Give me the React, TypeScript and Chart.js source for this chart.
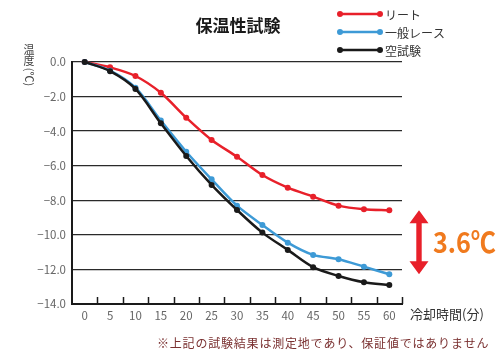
import React, { useEffect, useRef } from "react";
import { Chart, registerables } from "chart.js";

Chart.register(...registerables);

const minutes = ["0", "5", "10", "15", "20", "25", "30", "35", "40", "45", "50", "55", "60"];
const riito = [0, -0.31, -0.81, -1.78, -3.22, -4.51, -5.48, -6.54, -7.27, -7.79, -8.31, -8.52, -8.58];
const ippanRace = [0, -0.5, -1.49, -3.39, -5.19, -6.79, -8.31, -9.43, -10.45, -11.16, -11.41, -11.84, -12.28];
const karaShiken = [0, -0.53, -1.56, -3.55, -5.44, -7.11, -8.56, -9.87, -10.87, -11.87, -12.38, -12.74, -12.9];
const seriesNames = ["リート", "一般レース", "空試験"];
const seriesColors = ["#e8202a", "#3d9ad6", "#1a1a1a"];
const titleText = "保温性試験";
const yTitleTop = ["温", "度"];
const yTitleUnit = "(℃)";
const xTitleText = "冷却時間(分)";
const diffLabel = "3.6℃";
const footnote = "※上記の試験結果は測定地であり、保証値ではありません";

const FONT = "'Noto Sans CJK JP', 'Noto Sans', sans-serif";

const decorPlugin = {
  id: "decor",
  afterDraw(chart: any) {
    const ctx = chart.ctx as CanvasRenderingContext2D;
    const area = chart.chartArea;
    const xs = chart.scales.x;
    const ys = chart.scales.y;
    ctx.save();

    // inward x ticks at category boundaries
    const half = (xs.getPixelForValue(1) - xs.getPixelForValue(0)) / 2;
    ctx.strokeStyle = "#1a1a1a";
    ctx.lineWidth = 1.5;
    for (let i = 0; i < minutes.length; i++) {
      const px = Math.round(xs.getPixelForValue(i) + half) + 0.5;
      ctx.beginPath();
      ctx.moveTo(px, area.bottom);
      ctx.lineTo(px, area.bottom - 7);
      ctx.stroke();
    }

    // title
    ctx.fillStyle = "#1a1a1a";
    ctx.font = `bold 17px ${FONT}`;
    ctx.textAlign = "center";
    ctx.textBaseline = "middle";
    ctx.fillText(titleText, 238, 26);

    // legend
    const lx0 = area.right - 62;
    const lx1 = area.right - 22;
    const lys = [14, 32, 50];
    ctx.font = `12px ${FONT}`;
    ctx.textAlign = "left";
    for (let i = 0; i < seriesNames.length; i++) {
      ctx.strokeStyle = seriesColors[i];
      ctx.fillStyle = seriesColors[i];
      ctx.lineWidth = 2.5;
      ctx.beginPath();
      ctx.moveTo(lx0, lys[i]);
      ctx.lineTo(lx1, lys[i]);
      ctx.stroke();
      ctx.beginPath();
      ctx.arc(lx0, lys[i], 3, 0, Math.PI * 2);
      ctx.arc(lx1, lys[i], 3, 0, Math.PI * 2);
      ctx.fill();
      ctx.fillStyle = "#333";
      ctx.fillText(seriesNames[i], lx1 + 5, lys[i] + 1);
    }

    // y title
    ctx.fillStyle = "#444";
    ctx.font = `11px ${FONT}`;
    ctx.textAlign = "center";
    ctx.fillText(yTitleTop[0], 29, 50);
    ctx.fillText(yTitleTop[1], 29, 61);
    ctx.save();
    ctx.translate(29, 77);
    ctx.rotate(Math.PI / 2);
    ctx.fillText(yTitleUnit, 0, 0);
    ctx.restore();

    // x title
    ctx.fillStyle = "#333";
    ctx.font = `13px ${FONT}`;
    ctx.textAlign = "left";
    ctx.fillText(xTitleText, area.right + 8, area.bottom + 10);

    // difference arrow
    const last = minutes.length - 1;
    const yTop = ys.getPixelForValue(riito[last]);
    const yBot = ys.getPixelForValue(ippanRace[last]);
    const ax = area.right + 17;
    const hw = 9.5;
    const hh = 13;
    const sw = 2.7;
    ctx.fillStyle = "#e8202a";
    ctx.beginPath();
    ctx.moveTo(ax, yTop);
    ctx.lineTo(ax + hw, yTop + hh);
    ctx.lineTo(ax + sw, yTop + hh);
    ctx.lineTo(ax + sw, yBot - hh);
    ctx.lineTo(ax + hw, yBot - hh);
    ctx.lineTo(ax, yBot);
    ctx.lineTo(ax - hw, yBot - hh);
    ctx.lineTo(ax - sw, yBot - hh);
    ctx.lineTo(ax - sw, yTop + hh);
    ctx.lineTo(ax - hw, yTop + hh);
    ctx.closePath();
    ctx.fill();

    ctx.fillStyle = "#f07a1e";
    ctx.font = `bold 28px ${FONT}`;
    ctx.textAlign = "left";
    ctx.textBaseline = "middle";
    ctx.fillText(diffLabel, ax + 14, (yTop + yBot) / 2, 63);

    // footnote
    ctx.fillStyle = "#7a3030";
    ctx.font = `12px ${FONT}`;
    (ctx as any).letterSpacing = "0.8px";
    ctx.textAlign = "left";
    ctx.fillText(footnote, 157, 343);
    ctx.restore();
  },
};

export default function App() {
  const ref = useRef<HTMLCanvasElement>(null);
  useEffect(() => {
    if (!ref.current) return;
    Chart.defaults.font.family = FONT;
    const mk = (label: string, data: number[], color: string) => ({
      label,
      data,
      borderColor: color,
      backgroundColor: color,
      borderWidth: 2.5,
      pointRadius: 3,
      pointBorderWidth: 0,
      pointBackgroundColor: color,
      tension: 0.3,
      clip: false as any,
    });
    const chart = new Chart(ref.current, {
      type: "line",
      data: {
        labels: minutes,
        datasets: [
          mk(seriesNames[2], karaShiken, seriesColors[2]),
          mk(seriesNames[1], ippanRace, seriesColors[1]),
          mk(seriesNames[0], riito, seriesColors[0]),
        ],
      },
      options: {
        animation: false,
        responsive: false,
        layout: { padding: { left: 0, top: 62, right: 98, bottom: 0 } },
        plugins: { legend: { display: false }, tooltip: { enabled: false }, title: { display: false } },
        scales: {
          x: {
            type: "category",
            offset: true,
            grid: { display: false, drawTicks: false },
            border: { display: true, color: "#1a1a1a", width: 2 },
            ticks: { color: "#666", font: { size: 11.5, family: FONT }, padding: 5, maxRotation: 0, autoSkip: false },
            afterFit(scale: any) {
              scale.height = 55;
            },
          },
          y: {
            min: -14,
            max: 0,
            grid: { color: "#2a2a2a", lineWidth: 1.3, drawTicks: false },
            border: { display: true, color: "#1a1a1a", width: 2 },
            ticks: {
              stepSize: 2,
              color: "#666",
              font: { size: 11.5, family: FONT },
              padding: 6,
              callback: (v: any) => (Number(v) === 0 ? "0.0" : "−" + Math.abs(Number(v)).toFixed(1)),
            },
            afterFit(scale: any) {
              scale.width = 72;
            },
          },
        },
      },
      plugins: [decorPlugin],
    });
    return () => chart.destroy();
  }, []);
  return (
    <div style={{ position: "absolute", left: 0, top: 0, width: 500, height: 359, background: "#fff" }}>
      <canvas ref={ref} width={500} height={359} style={{ width: 500, height: 359, display: "block" }} />
    </div>
  );
}
